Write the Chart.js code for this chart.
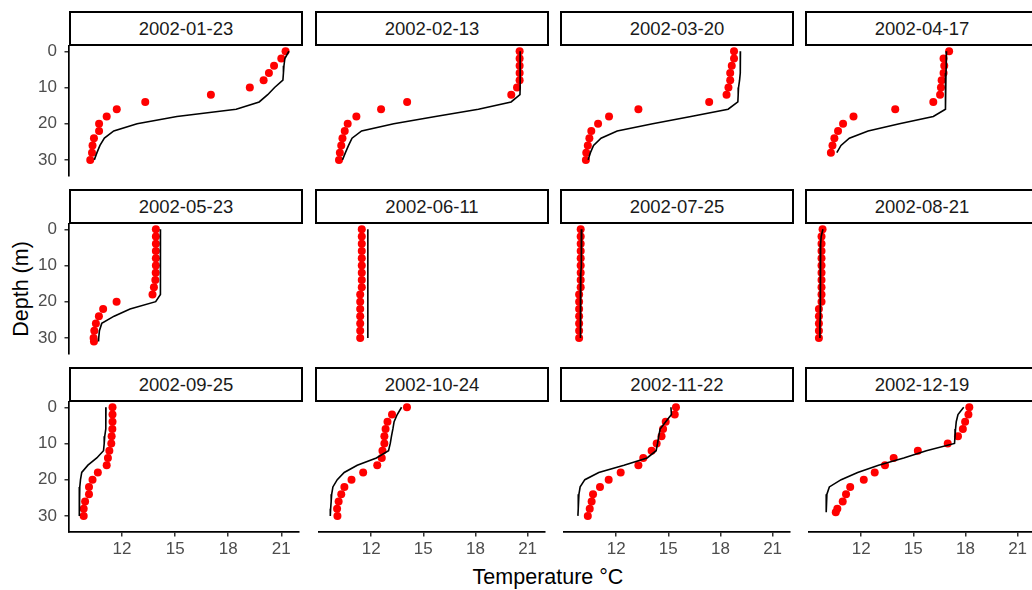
<!DOCTYPE html>
<html>
<head>
<meta charset="utf-8">
<script src="https://cdn.jsdelivr.net/npm/chart.js@4.4.0/dist/chart.umd.min.js"></script>
<style>
  body { margin: 0; background: #fff; }
  #fig { position: relative; width: 1032px; height: 590px; overflow: hidden; font-family: "Liberation Sans", Arial, sans-serif; }
  #fig canvas { position: absolute; }
  .strip { position: absolute; box-sizing: border-box; height: 35px; border: 2px solid #000; background: #fff;
           color: #1a1a1a; font-size: 18.5px; display: flex; align-items: center; justify-content: center; }
  .title { position: absolute; font-size: 21.5px; color: #000; white-space: nowrap; }
</style>
</head>
<body>
<div id="fig">
  <div class="title" style="left:548px;top:577px;transform:translate(-50%,-50%)">Temperature °C</div>
  <div class="title" style="left:21px;top:289px;transform:translate(-50%,-50%) rotate(-90deg)">Depth (m)</div>
</div>
<script>
const dates = ['2002-01-23', '2002-02-13', '2002-03-20', '2002-04-17',
               '2002-05-23', '2002-06-11', '2002-07-25', '2002-08-21',
               '2002-09-25', '2002-10-24', '2002-11-22', '2002-12-19'];

// depth levels (m) shared by the observed and modelled profiles; null = no value
const obsDepth   = [0, 2, 4, 6, 8, 10, 12, 14, 16, 18, 20, 22, 24, 26, 28, 29, 30, 31];
const modelDepth = [0, 2, 4, 6, 8, 10, 12, 14, 16, 18, 20, 22, 24, 26, 28, 29, 30, 31];

const xTicks = [12, 15, 18, 21];
const yTicks = [0, 10, 20, 30];

const obsTemp = [
  [21.24, 21.0, 20.59, 20.3, 20.0, 19.22, 17.02, 13.31, 11.7, 11.13, 10.7, 10.7, 10.41, 10.33, 10.3, null, 10.2, null],
  [20.54, 20.54, 20.54, 20.54, 20.54, 20.39, 20.06, 14.07, 12.57, 11.15, 10.65, 10.48, 10.35, 10.28, 10.2, null, 10.15, null],
  [18.78, 18.78, 18.65, 18.56, 18.56, 18.46, 18.35, 17.35, 13.28, 11.59, 10.96, 10.57, 10.46, 10.37, 10.28, null, 10.26, null],
  [17.06, 16.74, 16.78, 16.74, 16.63, 16.59, 16.54, 16.15, 13.96, 11.56, 10.96, 10.67, 10.46, 10.35, 10.26, null, null, null],
  [13.91, 13.91, 13.91, 13.91, 13.91, 13.91, 13.9, 13.88, 13.8, 13.72, 11.69, 10.93, 10.69, 10.52, 10.43, null, 10.39, 10.41],
  [11.46, 11.46, 11.46, 11.46, 11.46, 11.46, 11.46, 11.46, 11.46, 11.37, 11.37, 11.37, 11.37, 11.37, 11.37, null, 11.37, null],
  [9.96, 9.96, 9.96, 9.96, 9.96, 9.96, 9.96, 9.96, 9.96, 9.87, 9.87, 9.87, 9.87, 9.87, 9.87, null, 9.87, null],
  [9.78, 9.72, 9.72, 9.72, 9.72, 9.72, 9.72, 9.72, 9.72, 9.72, 9.72, 9.57, 9.57, 9.57, 9.57, null, 9.57, null],
  [11.46, 11.46, 11.46, 11.45, 11.41, 11.39, 11.28, 11.2, 11.13, 10.63, 10.33, 10.13, 10.13, 9.91, 9.83, null, 9.83, null],
  [14.06, 13.2, 12.94, 12.83, 12.76, 12.76, 12.65, 12.61, 12.35, 11.54, 10.87, 10.46, 10.28, 10.13, 10.04, null, 10.06, null],
  [15.44, 15.37, 14.85, 14.7, 14.61, 14.33, 14.04, 13.56, 13.28, 12.26, 11.57, 11.07, 10.67, 10.59, 10.48, null, 10.37, null],
  [18.22, 18.17, 17.98, 17.85, 17.57, 16.98, 15.26, 13.87, 13.37, 12.78, 12.15, 11.37, 11.13, 10.94, 10.63, 10.54, null, null]
];

const modelTemp = [
  [21.43, 21.2, 21.15, 21.12, 21.09, 20.62, 20.23, 19.75, 18.45, 15.1, 12.85, 11.53, 11.0, 10.75, 10.58, null, 10.43, null],
  [20.57, 20.57, 20.57, 20.57, 20.57, 20.57, 20.56, 20.05, 18.17, 15.7, 13.3, 11.45, 10.9, 10.7, 10.52, null, 10.35, null],
  [19.15, 19.15, 19.14, 19.13, 19.1, 19.04, 19.02, 19.0, 18.44, 16.3, 14.1, 12.06, 11.13, 10.7, 10.52, null, 10.39, null],
  [16.91, 16.9, 16.89, 16.88, 16.87, 16.86, 16.85, 16.84, 16.83, 16.15, 14.2, 12.4, 11.32, 10.84, 10.6, null, null, null],
  [14.17, 14.17, 14.17, 14.17, 14.17, 14.17, 14.17, 14.17, 14.17, 14.15, 13.9, 12.45, 11.55, 10.85, 10.72, null, 10.68, 10.67],
  [11.81, 11.81, 11.81, 11.81, 11.81, 11.81, 11.81, 11.81, 11.81, 11.81, 11.81, 11.81, 11.81, 11.81, 11.81, null, 11.8, null],
  [10.02, 10.01, 10.0, 10.0, 9.99, 9.98, 9.97, 9.97, 9.96, 9.96, 9.95, 9.95, 9.94, 9.94, 9.93, null, 9.93, null],
  [9.8, 9.7, 9.67, 9.67, 9.66, 9.66, 9.66, 9.65, 9.65, 9.65, 9.64, 9.64, 9.64, 9.63, 9.63, null, 9.63, null],
  [11.09, 11.09, 11.08, 11.07, 11.02, 10.99, 10.95, 10.57, 10.07, 9.72, 9.65, 9.61, 9.58, 9.57, 9.58, null, 9.6, null],
  [13.75, 13.5, 13.32, 13.25, 13.17, 13.1, 13.0, 12.3, 11.2, 10.45, 10.05, 9.8, 9.73, 9.7, 9.67, null, 9.65, null],
  [15.15, 15.18, 14.85, 14.53, 14.45, 14.38, 14.3, 13.78, 12.45, 11.0, 10.2, 9.93, 9.86, 9.83, 9.81, null, 9.8, null],
  [17.9, 17.57, 17.47, 17.43, 17.4, 17.37, 15.75, 14.45, 13.0, 11.8, 10.85, 10.17, 10.03, 10.0, 9.99, 9.98, null, null]
];

const fontFamily = '"Liberation Sans", Arial, sans-serif';
Chart.defaults.font.family = fontFamily;

const colLeft = [69, 315, 560, 805];
const rowTop = [46, 224, 402];
const panelW = 234, panelH = 130;
const yAxisW = 69, xAxisH = 40, pad = 20;

function profile(depths, temps) {
  const pts = [];
  depths.forEach((d, i) => {
    if (temps[i] !== null) pts.push({ x: temps[i], y: d });
  });
  return pts;
}

const fig = document.getElementById('fig');

dates.forEach((date, p) => {
  const r = Math.floor(p / 4), c = p % 4;
  const showY = c === 0, showX = r === 2;
  const padBottom = showX ? 0 : pad;

  const canvas = document.createElement('canvas');
  canvas.width = panelW + (showY ? yAxisW : 0);
  canvas.height = pad + panelH + (showX ? xAxisH : padBottom);
  canvas.style.left = (colLeft[c] - (showY ? yAxisW : 0)) + 'px';
  canvas.style.top = (rowTop[r] - pad) + 'px';
  fig.appendChild(canvas);

  const strip = document.createElement('div');
  strip.className = 'strip';
  strip.style.left = colLeft[c] + 'px';
  strip.style.top = (rowTop[r] - 35) + 'px';
  strip.style.width = panelW + 'px';
  strip.textContent = date;
  fig.appendChild(strip);

  const axisGrid = { drawOnChartArea: false, drawTicks: true, tickLength: 4.5, color: '#333', lineWidth: 1.5 };
  const axisBorder = { display: true, color: '#000', width: 1.7 };
  const tickFont = { family: fontFamily, size: 17 };

  new Chart(canvas, {
    type: 'scatter',
    data: {
      datasets: [
        {
          data: profile(modelDepth, modelTemp[p]),
          showLine: true,
          borderColor: '#000',
          borderWidth: 1.6,
          pointRadius: 0,
          tension: 0
        },
        {
          data: profile(obsDepth, obsTemp[p]),
          backgroundColor: '#ff0000',
          borderWidth: 0,
          pointRadius: 4
        }
      ]
    },
    options: {
      responsive: false,
      animation: false,
      events: [],
      layout: { padding: { top: pad, left: 0, right: 0, bottom: padBottom } },
      plugins: { legend: { display: false }, tooltip: { enabled: false } },
      scales: {
        x: {
          type: 'linear', min: 9, max: 22, display: showX,
          afterBuildTicks: s => { s.ticks = xTicks.map(v => ({ value: v })); },
          afterFit: s => { if (showX) s.height = xAxisH; },
          grid: axisGrid,
          border: axisBorder,
          ticks: { color: '#4d4d4d', font: tickFont, padding: 3, maxRotation: 0, autoSkip: false }
        },
        y: {
          type: 'linear', reverse: true, min: -1.45, max: 34.45, display: showY,
          afterBuildTicks: s => { s.ticks = yTicks.map(v => ({ value: v })); },
          afterFit: s => { if (showY) s.width = yAxisW; },
          grid: axisGrid,
          border: axisBorder,
          ticks: { color: '#4d4d4d', font: tickFont, padding: 7.5, autoSkip: false }
        }
      }
    }
  });
});
</script>
</body>
</html>
